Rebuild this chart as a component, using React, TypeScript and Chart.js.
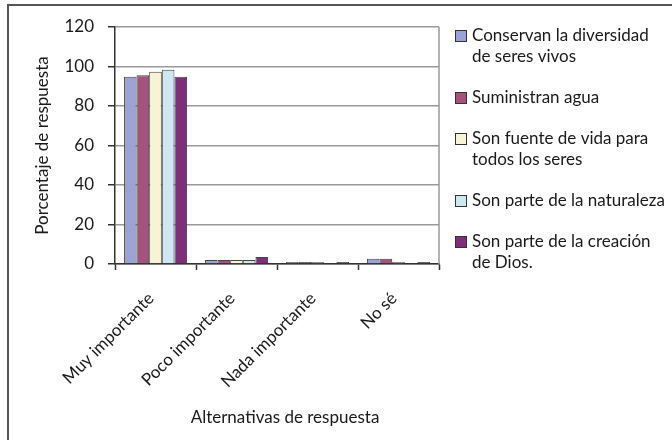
import React, { useEffect, useRef } from "react";
import { Chart, registerables } from "chart.js";

Chart.register(...registerables);

const categories = ["Muy importante", "Poco importante", "Nada importante", "No sé"];
const seriesLabels: string[][] = [
  ["Conservan la diversidad", "de seres vivos"],
  ["Suministran agua"],
  ["Son fuente de vida para", "todos los seres"],
  ["Son parte de la naturaleza"],
  ["Son parte de la creación", "de Dios."],
];
const conservan = [94.8, 2, 1, 2.7];
const suministran = [95.6, 2, 1, 2.7];
const fuente = [97.3, 2, 1, 1];
const naturaleza = [98.3, 2, 0, 0];
const creacion = [94.8, 3.5, 1, 1];
const seriesValues = [conservan, suministran, fuente, naturaleza, creacion];
const seriesColors = ["#9aa2d6", "#a3537c", "#f6f4d4", "#cde8f2", "#7f2e7b"];
const yTicks = [0, 20, 40, 60, 80, 100, 120];
const xTitle = "Alternativas de respuesta";

const FONT = "Lato, 'Open Sans', sans-serif";

const decorPlugin = {
  id: "decor",
  beforeDraw(chart: any) {
    const ctx = chart.ctx;
    ctx.save();
    ctx.fillStyle = "#ffffff";
    ctx.fillRect(0, 0, chart.width, chart.height);
    ctx.strokeStyle = "#555555";
    ctx.lineWidth = 2;
    ctx.strokeRect(8, 5, 700, 500);
    ctx.restore();
  },
  afterDraw(chart: any) {
    const ctx = chart.ctx;
    const a = chart.chartArea;
    const xs = chart.scales.x;
    ctx.save();
    ctx.strokeStyle = "#9a9a9a";
    ctx.lineWidth = 1.5;
    ctx.beginPath();
    ctx.moveTo(a.right, a.top);
    ctx.lineTo(a.right, a.bottom);
    ctx.stroke();
    ctx.font = "17px " + FONT;
    ctx.fillStyle = "#1a1a1a";
    // rotated category labels (45°)
    ctx.textAlign = "right";
    ctx.textBaseline = "middle";
    chart.data.labels.forEach((lab: string, i: number) => {
      const px = xs.getPixelForValue(i);
      ctx.save();
      ctx.translate(px - 4.5, a.bottom + 31.5);
      ctx.rotate(-Math.PI / 4);
      ctx.fillText(lab, 0, 0);
      ctx.restore();
    });
    // x axis title
    ctx.textAlign = "center";
    ctx.fillText(xTitle, (a.left + a.right) / 2 + 8, 418);
    // legend
    const lineH = 21;
    let y = 36;
    ctx.textAlign = "left";
    chart.data.datasets.forEach((ds: any, i: number) => {
      const lines: string[] = seriesLabels[i];
      ctx.fillStyle = ds.backgroundColor;
      ctx.fillRect(455.5, y - 5.5, 11, 11);
      ctx.strokeStyle = "#333333";
      ctx.lineWidth = 1;
      ctx.strokeRect(455.5, y - 5.5, 11, 11);
      ctx.fillStyle = "#1a1a1a";
      lines.forEach((ln, j) => ctx.fillText(ln, 472, y + j * lineH));
      y += lines.length * lineH + 20;
    });
    ctx.restore();
  },
};

export default function App() {
  const ref = useRef<HTMLCanvasElement>(null);
  useEffect(() => {
    document.body.style.margin = "0";
    const canvas = ref.current!;
    const chart = new Chart(canvas, {
      type: "bar",
      data: {
        labels: categories,
        datasets: seriesValues.map((vals, i) => ({
          label: seriesLabels[i].join(" "),
          data: vals,
          backgroundColor: seriesColors[i],
          borderColor: "#444444",
          borderWidth: 1,
          barPercentage: 1,
          categoryPercentage: 0.78,
        })),
      },
      options: {
        animation: false,
        responsive: false,
        devicePixelRatio: 1,
        layout: { padding: { left: 0, top: 27, right: 233, bottom: 0 } },
        plugins: {
          legend: { display: false },
          tooltip: { enabled: false },
        },
        scales: {
          x: {
            afterFit: (s: any) => {
              s.height = 176;
            },
            grid: {
              offset: true,
              drawOnChartArea: false,
              drawTicks: true,
              tickLength: 6,
              tickColor: "#333333",
              tickWidth: 1.5,
            },
            border: { color: "#333333", width: 1.5 },
            ticks: {
              display: false,
            },
          },
          y: {
            min: 0,
            max: 120,
            afterFit: (s: any) => {
              s.width = 115;
            },
            afterBuildTicks: (s: any) => {
              s.ticks = yTicks.map((v) => ({ value: v }));
            },
            grid: {
              color: "#9a9a9a",
              lineWidth: 1.5,
              tickLength: 7,
              tickColor: "#333333",
              tickWidth: 1.5,
            },
            border: { color: "#333333", width: 1.5 },
            ticks: {
              padding: 14,
              color: "#1a1a1a",
              font: { family: FONT, size: 17 },
            },
            title: {
              display: true,
              text: "Porcentaje de respuesta",
              color: "#1a1a1a",
              font: { family: FONT, size: 17 },
              padding: { top: 32, bottom: 0 },
            },
          },
        },
      },
      plugins: [decorPlugin],
    });
    return () => chart.destroy();
  }, []);
  return <canvas ref={ref} width={672} height={440} style={{ display: "block", width: 672, height: 440 }} />;
}
